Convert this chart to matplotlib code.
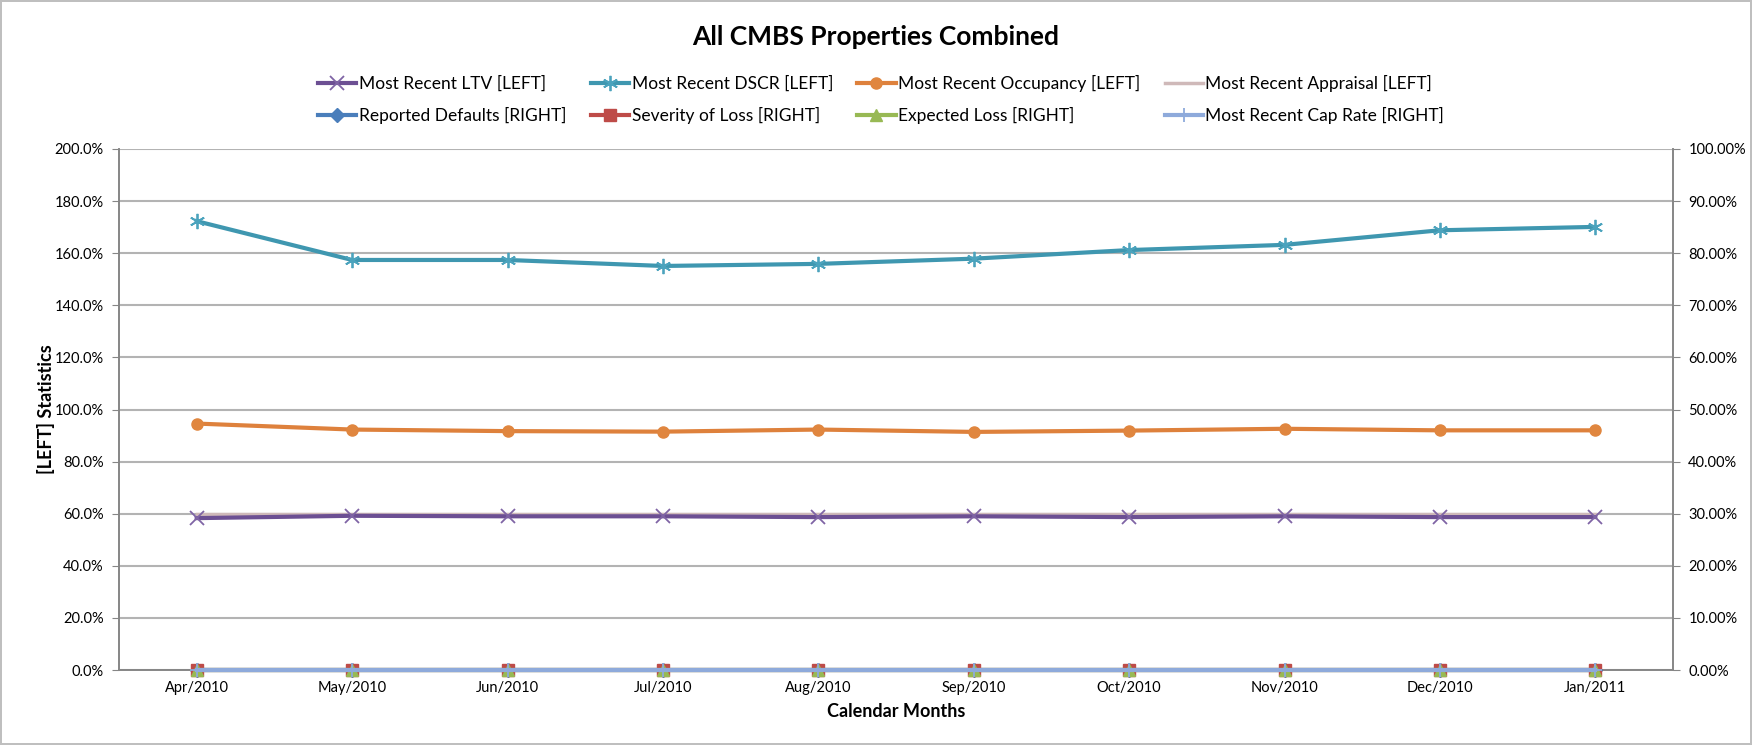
import numpy as np
import matplotlib.pyplot as plt
from matplotlib.ticker import FuncFormatter

plt.rcParams['font.family'] = ['Lato', 'DejaVu Sans']

# Data
months = ['Apr/2010', 'May/2010', 'Jun/2010', 'Jul/2010', 'Aug/2010',
          'Sep/2010', 'Oct/2010', 'Nov/2010', 'Dec/2010', 'Jan/2011']

# left axis (percent)
ltv = [58.3, 59.2, 59.0, 59.0, 58.7, 59.0, 58.7, 59.0, 58.7, 58.7]
dscr = [172.3, 157.4, 157.4, 155.1, 155.9, 157.9, 161.2, 163.2, 168.8, 170.1]
occupancy = [94.6, 92.3, 91.7, 91.5, 92.3, 91.4, 91.9, 92.6, 92.0, 92.0]
appraisal = [59.8, 59.8, 59.8, 59.8, 59.8, 59.8, 59.8, 59.8, 59.8, 59.8]

# right axis (percent)
defaults = [0, 0, 0, 0, 0, 0, 0, 0, 0, 0]
severity = [0, 0, 0, 0, 0, 0, 0, 0, 0, 0]
expected_loss = [0, 0, 0, 0, 0, 0, 0, 0, 0, 0]
cap_rate = [0, 0, 0, 0, 0, 0, 0, 0, 0, 0]

x = np.arange(len(months))

fig = plt.figure(figsize=(17.52, 7.45), dpi=100)
fig.patch.set_edgecolor('#BFBFBF')
fig.patch.set_linewidth(1.5)
ax = fig.add_axes([119 / 1752, 1 - 670 / 745, (1673 - 119) / 1752, (670 - 149) / 745])
ax2 = ax.twinx()

grid_c = '#B3B3B3'
axis_c = '#868686'

h_ltv, = ax.plot(x, ltv, color='#6C4F93', lw=3, marker='x', ms=10, mew=1.3,
                 mec='#7F64A5', label='Most Recent LTV [LEFT]', zorder=4)
h_dscr, = ax.plot(x, dscr, color='#3F97B0', lw=3, marker=(6, 2, 0), ms=11, mew=1.3,
                  mec='#4BA3BD', label='Most Recent DSCR [LEFT]', zorder=4)
h_occ, = ax.plot(x, occupancy, color='#DE813C', lw=3, marker='o', ms=8,
                 mfc='#E0863F', mec='#E0863F', label='Most Recent Occupancy [LEFT]', zorder=4)
h_app, = ax.plot(x, appraisal, color='#CFB9B9', lw=2.5,
                 label='Most Recent Appraisal [LEFT]', zorder=3)

h_def, = ax2.plot(x, defaults, color='#4A7EBB', lw=3, marker='D', ms=7,
                  label='Reported Defaults [RIGHT]', zorder=4, clip_on=False)
h_sev, = ax2.plot(x, severity, color='#BE4B48', lw=3, marker='s', ms=8,
                  label='Severity of Loss [RIGHT]', zorder=5, clip_on=False)
h_exp, = ax2.plot(x, expected_loss, color='#98B954', lw=3, marker='^', ms=8,
                  label='Expected Loss [RIGHT]', zorder=6, clip_on=False)
h_cap, = ax2.plot(x, cap_rate, color='#8EAADB', lw=3, marker='+', ms=10, mew=1.3,
                  label='Most Recent Cap Rate [RIGHT]', zorder=7, clip_on=False)

ax.set_xlim(-0.5, len(months) - 0.5)
ax.set_ylim(0, 200)
ax2.set_ylim(0, 100)
ax.set_yticks(np.arange(0, 201, 20))
ax2.set_yticks(np.arange(0, 101, 10))
ax.yaxis.set_major_formatter(FuncFormatter(lambda v, p: f'{v:.1f}%'))
ax2.yaxis.set_major_formatter(FuncFormatter(lambda v, p: f'{v:.2f}%'))
ax.set_xticks(x)
ax.set_xticklabels(months)

ax.grid(axis='y', color=grid_c, lw=1.5)
ax.set_axisbelow(True)
for a in (ax, ax2):
    a.spines['top'].set_visible(False)
    for s in ('left', 'right', 'bottom'):
        a.spines[s].set_color(axis_c)
        a.spines[s].set_linewidth(1.2)
    a.tick_params(labelsize=10.5, colors='#000000')
ax.tick_params(axis='x', length=0, pad=8)
ax.tick_params(axis='y', color=axis_c, length=5, pad=6)
ax2.tick_params(axis='y', color=axis_c, length=5, pad=6)

ax.set_xlabel('Calendar Months', fontsize=13, fontweight='bold', labelpad=6)
ax.set_ylabel('[LEFT] Statistics', fontsize=13, fontweight='bold', labelpad=0)

fig.suptitle('All CMBS Properties Combined', fontsize=19, fontweight='bold',
             y=1 - 37 / 745, va='center')

# legend filled column by column, so interleave the two rows
handles = [h_ltv, h_def, h_dscr, h_sev, h_occ, h_exp, h_app, h_cap]
fig.legend(handles=handles, loc='center', bbox_to_anchor=(0.503, 1 - 99.5 / 745), ncol=4,
           frameon=False, fontsize=12.5, handlelength=2.2, handletextpad=0.15,
           columnspacing=1.4, labelspacing=0.9)

fig.savefig('out.png', dpi=100)
